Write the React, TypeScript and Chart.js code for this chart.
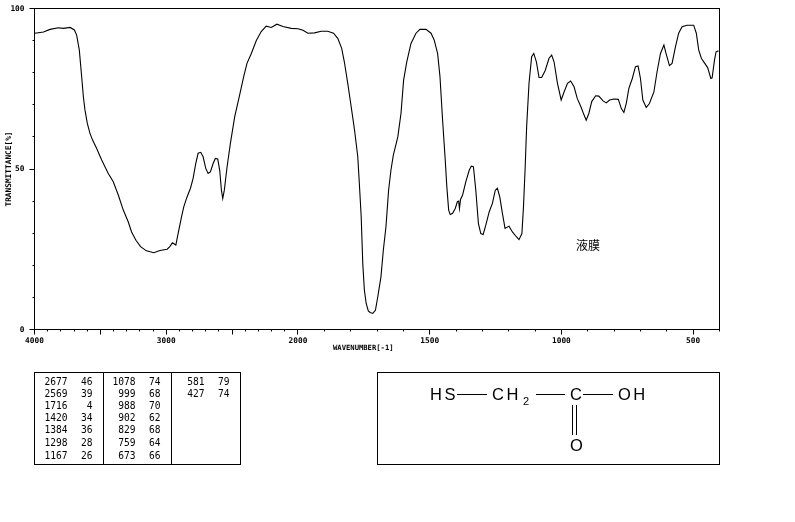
import React, { useEffect, useRef } from "react";
import { Chart, registerables } from "chart.js";

Chart.register(...registerables);

const wavenumbers = [
  3998, 3932, 3882, 3819, 3781, 3730, 3697, 3680, 3660, 3642, 3629, 3617, 3599, 3579, 3559, 3528, 3490, 3440, 3402, 3364,
  3326, 3288, 3263, 3230, 3195, 3150, 3094, 3048, 2993, 2973, 2953, 2927, 2910, 2884, 2867, 2842, 2816, 2796, 2776, 2758,
  2738, 2720, 2700, 2682, 2665, 2644, 2627, 2609, 2594, 2581, 2571, 2559, 2538, 2513, 2480, 2443, 2412, 2387, 2354, 2316,
  2279, 2241, 2203, 2160, 2114, 2051, 2000, 1981, 1962, 1937, 1912, 1887, 1865, 1849, 1834, 1824, 1811, 1798, 1786, 1773,
  1767, 1760, 1754, 1748, 1741, 1733, 1726, 1716, 1706, 1697, 1685, 1676, 1666, 1656, 1647, 1638, 1621, 1609, 1599, 1587,
  1571, 1552, 1537, 1514, 1495, 1483, 1470, 1461, 1451, 1441, 1435, 1428, 1422, 1413, 1403, 1395, 1390, 1387, 1383, 1375,
  1363, 1350, 1342, 1334, 1325, 1315, 1306, 1297, 1287, 1274, 1262, 1251, 1243, 1234, 1224, 1214, 1199, 1186, 1171, 1161,
  1150, 1144, 1138, 1132, 1123, 1113, 1105, 1095, 1085, 1075, 1062, 1047, 1037, 1028, 1015, 1001, 990, 977, 965, 952,
  940, 926, 914, 906, 896, 885, 870, 858, 842, 830, 817, 801, 784, 773, 763, 754, 744, 731, 719, 709,
  700, 691, 678, 666, 649, 637, 624, 611, 603, 590, 580, 567, 555, 542, 523, 498, 488, 479, 469, 456,
  445, 433, 428, 419, 413, 404,
];
const transmittance = [
  92.3, 92.7, 93.5, 94.0, 93.8, 94.1, 93.3, 91.7, 87.1, 78.8, 72.5, 68.4, 64.2, 61.1, 59.0, 56.4, 52.8, 48.6, 46.0, 41.9,
  37.2, 33.5, 30.4, 27.8, 25.8, 24.5, 23.9, 24.6, 25.0, 25.8, 27.0, 26.3, 29.9, 35.1, 38.2, 41.3, 44.0, 47.1, 51.7, 54.9,
  55.2, 53.8, 50.2, 48.6, 49.1, 51.7, 53.3, 53.1, 49.6, 43.4, 40.8, 43.4, 50.7, 58.0, 66.3, 73.0, 78.8, 82.9, 86.0, 90.0,
  92.8, 94.5, 94.1, 95.1, 94.4, 93.8, 93.7, 93.2, 92.3, 92.4, 92.9, 92.9, 92.3, 90.7, 87.6, 83.4, 76.7, 69.4, 62.6, 53.8,
  45.5, 35.1, 20.6, 12.3, 8.1, 5.8, 5.3, 5.0, 6.0, 10.2, 16.4, 24.7, 32, 43.4, 49.7, 54.3, 60, 67.3, 77.7, 83.4,
  89.1, 92.3, 93.5, 93.5, 92.3, 90.2, 86, 78.8, 65.2, 52.8, 44.5, 37.2, 35.8, 36.2, 37.7, 39.8, 40, 37.7, 40.5, 41.9,
  46, 49.6, 50.9, 50.7, 43.4, 33, 29.9, 29.6, 32.5, 36.7, 39.3, 43.4, 44, 41.3, 36.2, 31.5, 32.2, 30.4, 28.9, 28,
  29.9, 38.2, 49.7, 63.2, 76.7, 85, 86, 83.4, 78.5, 78.5, 80.6, 84.5, 85.5, 83.4, 76.7, 71.5, 74, 76.7, 77.4, 75.6,
  72, 69.4, 66.8, 65.2, 67.3, 71, 72.8, 72.7, 71.2, 70.6, 71.5, 71.8, 71.7, 68.9, 67.6, 70.4, 75.1, 78.2, 81.9, 82.1,
  78.2, 71.5, 69.2, 70.4, 74, 80.3, 86, 88.6, 86, 82.2, 82.9, 88.1, 92.3, 94.3, 94.8, 94.8, 92.3, 87.1, 84.5, 82.9,
  81.6, 78.2, 78.4, 83.9, 86.5, 86.8,
];

const xTickLabels = ["4000", "3000", "2000", "1500", "1000", "500"];
const yTickLabels = ["0", "50", "100"];

const peakColumns = [
  [["2677", "46"], ["2569", "39"], ["1716", "4"], ["1420", "34"], ["1384", "36"], ["1298", "28"], ["1167", "26"]],
  [["1078", "74"], ["999", "68"], ["988", "70"], ["902", "62"], ["829", "68"], ["759", "64"], ["673", "66"]],
  [["581", "79"], ["427", "74"]],
];

const xTitle = "WAVENUMBER[-1]";
const yTitle = "TRANSMITTANCE[%]";
const sampleNote = "液膜";

// The spectrum's abscissa doubles its scale below 2000 cm-1.
const toAxis = (w: number) => (w >= 2000 ? 4000 - w : 2000 + 2 * (2000 - w));
const fromAxis = (a: number) => (a <= 2000 ? 4000 - a : 2000 - (a - 2000) / 2);

const MONO = '"DejaVu Sans Mono", monospace';
const SANS = '"Liberation Sans", sans-serif';

const decor = {
  id: "decor",
  afterDraw(chart: any) {
    const c = chart.ctx as CanvasRenderingContext2D;
    const { left, right, top, bottom } = chart.chartArea;
    const xs = chart.scales.x;
    const ys = chart.scales.y;
    c.save();
    c.strokeStyle = "#000";
    c.fillStyle = "#000";
    c.lineWidth = 1;
    c.strokeRect(left, top, right - left, bottom - top);

    const rx = (v: number) => Math.round(xs.getPixelForValue(v) - 0.5) + 0.5;
    const ry = (v: number) => Math.round(ys.getPixelForValue(v) - 0.5) + 0.5;
    c.beginPath();
    for (let w = 4000; w >= 500; w -= 500) {
      const p = rx(toAxis(w));
      c.moveTo(p, bottom);
      c.lineTo(p, bottom + 5);
    }
    for (const v of [0, 50, 100]) {
      const p = ry(v);
      c.moveTo(left, p);
      c.lineTo(left - 5, p);
    }
    c.stroke();

    // axis title
    c.font = `bold 7.2px ${MONO}`;
    c.textAlign = "left";
    c.textBaseline = "middle";
    c.fillText(xTitle, 333, 348);

    // note
    c.font = `12px "Noto Sans CJK JP"`;
    c.textAlign = "left";
    c.fillText(sampleNote, 576, 245);

    // peak table
    c.strokeRect(34.5, 372.5, 206, 92);
    c.beginPath();
    c.moveTo(103.5, 372.5);
    c.lineTo(103.5, 464.5);
    c.moveTo(171.5, 372.5);
    c.lineTo(171.5, 464.5);
    c.stroke();
    c.font = `9.6px ${MONO}`;
    c.textAlign = "right";
    const rowY = [382, 394, 406.5, 418.5, 430.5, 443, 456];
    const colX = [[67.5, 92.5], [135.5, 160.5], [204.5, 229.5]];
    peakColumns.forEach((col, i) =>
      col.forEach((row, j) => {
        c.fillText(row[0], colX[i][0], rowY[j]);
        c.fillText(row[1], colX[i][1], rowY[j]);
      })
    );

    // structure box
    c.strokeRect(377.5, 372.5, 342, 92);
    c.beginPath();
    c.moveTo(457, 394.5);
    c.lineTo(487, 394.5);
    c.moveTo(536, 394.5);
    c.lineTo(565, 394.5);
    c.moveTo(583, 394.5);
    c.lineTo(613, 394.5);
    c.moveTo(572.5, 405);
    c.lineTo(572.5, 435);
    c.moveTo(576.5, 405);
    c.lineTo(576.5, 435);
    c.stroke();
    c.font = `16.5px ${SANS}`;
    c.textAlign = "left";
    c.textBaseline = "alphabetic";
    (c as any).letterSpacing = "2.5px";
    c.fillText("HS", 430, 400);
    c.fillText("CH", 492, 400);
    c.fillText("C", 570, 400);
    c.fillText("OH", 618, 400);
    c.fillText("O", 570, 451);
    (c as any).letterSpacing = "0px";
    c.font = `11px ${SANS}`;
    c.fillText("2", 523, 405);
    c.restore();
  },
};

export default function App() {
  const ref = useRef<HTMLCanvasElement>(null);
  useEffect(() => {
    const chart = new Chart(ref.current!, {
      type: "line",
      data: {
        datasets: [
          {
            data: wavenumbers.map((w, i) => ({ x: toAxis(w), y: transmittance[i] })),
            borderColor: "#000",
            borderWidth: 1.1,
            pointRadius: 0,
            tension: 0,
            fill: false,
          },
        ],
      },
      options: {
        animation: false,
        responsive: false,
        devicePixelRatio: 1,
        layout: { padding: { top: 8.5, right: 75.5, left: 0, bottom: 0 } },
        plugins: { legend: { display: false }, tooltip: { enabled: false }, title: { display: false } },
        scales: {
          x: {
            type: "linear",
            min: 0,
            max: 5200,
            afterBuildTicks(s: any) {
              const t = [];
              for (let a = 0; a <= 5200; a += a < 2000 ? 100 : 200) t.push({ value: a });
              s.ticks = t;
            },
            afterFit(s: any) {
              s.height = 192.5;
              s.paddingLeft = 0;
              s.paddingRight = 0;
            },
            grid: { drawOnChartArea: false, tickLength: 2, color: "#000", lineWidth: 1 },
            border: { display: true, color: "#000" },
            ticks: {
              autoSkip: false,
              maxRotation: 0,
              padding: 5,
              color: "#000",
              font: { family: MONO, size: 7.8, weight: "bold" },
              callback: (v: any) => {
                const w = String(fromAxis(Number(v)));
                return xTickLabels.includes(w) ? w : "";
              },
            },
          },
          y: {
            min: 0,
            max: 100,
            afterBuildTicks(s: any) {
              const t = [];
              for (let v = 0; v <= 100; v += 10) t.push({ value: v });
              s.ticks = t;
            },
            afterFit(s: any) {
              s.width = 34.5;
              s.paddingTop = 0;
              s.paddingBottom = 0;
            },
            grid: { drawOnChartArea: false, tickLength: 2, color: "#000", lineWidth: 1 },
            border: { display: true, color: "#000" },
            title: {
              display: true,
              text: yTitle,
              color: "#000",
              font: { family: MONO, size: 7.8, weight: "bold" },
              padding: { top: 4, bottom: 0 },
            },
            ticks: {
              autoSkip: false,
              padding: 8,
              color: "#000",
              font: { family: MONO, size: 7.8, weight: "bold" },
              callback: (v: any) => (yTickLabels.includes(String(v)) ? String(v) : ""),
            },
          },
        },
      } as any,
      plugins: [decor],
    });
    return () => chart.destroy();
  }, []);
  return (
    <div style={{ position: "fixed", left: 0, top: 0, width: 795, height: 522, background: "#fff" }}>
      <canvas ref={ref} width={795} height={522} style={{ display: "block" }} />
    </div>
  );
}
